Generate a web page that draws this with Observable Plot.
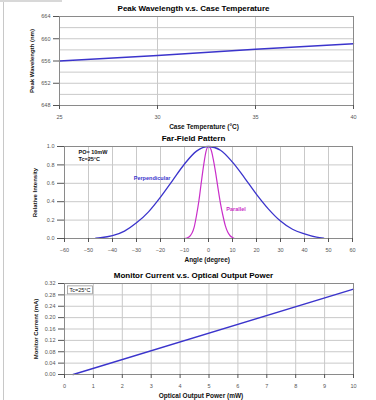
<!DOCTYPE html>
<html>
<head>
<meta charset="utf-8">
<script src="https://cdn.jsdelivr.net/npm/d3@7"></script>
<script src="https://cdn.jsdelivr.net/npm/@observablehq/plot@0.6"></script>
<style>
  body { margin: 0; background: #fff; }
  #wrap { position: relative; width: 376px; height: 400px; overflow: hidden; background: #fff; }
  .chart { position: absolute; left: 0; }
  #edge { position: absolute; left: 3px; top: 0; width: 1px; height: 400px; background: #c8c8c8; }
  #topbar { position: absolute; left: 0; top: 0; width: 62px; height: 2px; background: #d8d8d8; }
</style>
</head>
<body>
<div id="wrap">
  <div id="edge"></div>
  <div id="topbar"></div>
  <div id="c1" class="chart" style="top:0px"></div>
  <div id="c2" class="chart" style="top:130px"></div>
  <div id="c3" class="chart" style="top:265px"></div>
</div>
<script>
// ---------- Data ----------
// Chart 1: Peak Wavelength vs Case Temperature
const caseTemp = [25, 30, 35, 40];
const peakWavelength = [656.0, 657.0, 658.1, 659.1];
const tempTicks = [25, 30, 35, 40];
const wlTicks = [648, 652, 656, 660, 664];
const wlGrid = [650, 652, 654, 656, 658, 660, 662];
const tempGrid = [30, 35];

// Chart 2: Far-Field Pattern
const perpAngle = [-47, -45, -40, -35, -30, -25, -20, -15, -10, -5, 0, 5, 10, 15, 20, 25, 30, 35, 40, 45, 48];
const perpIntensity = [0.004, 0.008, 0.03, 0.08, 0.17, 0.29, 0.45, 0.63, 0.81, 0.95, 1.0, 0.96, 0.83, 0.66, 0.48, 0.32, 0.19, 0.10, 0.05, 0.015, 0.005];
const paraAngle = [-47, -12, -10, -8, -6, -5, -4, -3, -2, -1, 0, 1, 2, 3, 4, 5, 6, 7, 8, 9, 10, 11, 48];
const paraIntensity = [0, 0, 0.0, 0.02, 0.12, 0.25, 0.41, 0.61, 0.80, 0.95, 1.0, 0.97, 0.86, 0.71, 0.54, 0.38, 0.25, 0.14, 0.07, 0.03, 0.01, 0, 0];
const angleTicks = [-60, -50, -40, -30, -20, -10, 0, 10, 20, 30, 40, 50, 60];
const angleGrid = [-50, -40, -30, -20, -10, 0, 10, 20, 30, 40, 50];
const intensityTicks = [0, 0.2, 0.4, 0.6, 0.8, 1.0];
const intensityGrid = [0.2, 0.4, 0.6, 0.8];
const seriesLabels = ["Perpendicular", "Parallel"];
const seriesLabelAngle = [-23.5, 11.5];
const seriesLabelIntensity = [0.65, 0.32];
const conditionNotes = ["PO= 10mW", "Tc=25°C"];

// Chart 3: Monitor Current vs Optical Output Power
const outputPower = [0.3, 10];
const monitorCurrent = [0.0, 0.30];
const powerTicks = [0, 1, 2, 3, 4, 5, 6, 7, 8, 9, 10];
const powerGrid = [1, 2, 3, 4, 5, 6, 7, 8, 9];
const currentTicks = [0, 0.04, 0.08, 0.12, 0.16, 0.20, 0.24, 0.28, 0.32];
const currentGrid = [0.04, 0.08, 0.12, 0.16, 0.20, 0.24, 0.28];

// ---------- Styling ----------
const FONT = "'Liberation Sans', Arial, sans-serif";
const GRID = "#c9c9c9";
const FRAME = "#8a8a8a";
const TICKC = "#555";
const BLUE = "#3b34cc";
const MAGENTA = "#c92ec9";

function baseStyle() {
  return { fontFamily: FONT, fontSize: "5.5px", background: "transparent", overflow: "visible" };
}
function title(t, dx, dy) {
  return Plot.text([t], { frameAnchor: "top", textAnchor: "middle", lineAnchor: "middle", dx, dy, fontWeight: "bold", fontSize: 8, fill: "#000" });
}
function xTitle(t, dx, dy) {
  return Plot.text([t], { frameAnchor: "bottom", textAnchor: "middle", lineAnchor: "middle", dx, dy, fontWeight: "bold", fontSize: 6.5, fill: "#111" });
}
function yTitle(t, dx, dy) {
  return Plot.text([t], { frameAnchor: "left", textAnchor: "middle", lineAnchor: "middle", rotate: -90, dx, dy: dy || 0, fontWeight: "bold", fontSize: 6, fill: "#111" });
}

// ---------- Chart 1 ----------
const d1 = caseTemp.map((t, i) => ({ t, w: peakWavelength[i] }));
const p1 = Plot.plot({
  width: 376, height: 130,
  marginLeft: 59, marginRight: 23, marginTop: 16, marginBottom: 25,
  style: baseStyle(),
  x: { domain: [25, 40] },
  y: { domain: [648, 664] },
  marks: [
    Plot.gridX(tempGrid, { stroke: GRID, strokeOpacity: 1 }),
    Plot.gridY(wlGrid, { stroke: GRID, strokeOpacity: 1 }),
    Plot.line(d1, { x: "t", y: "w", stroke: BLUE, strokeWidth: 1.4 }),
    Plot.frame({ stroke: FRAME }),
    Plot.axisX(tempTicks, { tickSize: 4, tickPadding: 6, color: TICKC, fontSize: 5.5, label: null }),
    Plot.axisY(wlTicks, { tickSize: 6, tickPadding: 3, color: TICKC, fontSize: 5.5, label: null }),
    title("Peak Wavelength v.s. Case Temperature", -13, -8),
    xTitle("Case Temperature (°C)", -2.5, 21),
    yTitle("Peak Wavelength (nm)", -27)
  ]
});
document.getElementById("c1").append(p1);

// ---------- Chart 2 ----------
const perp = perpAngle.map((a, i) => ({ a, v: perpIntensity[i] }));
const para = paraAngle.map((a, i) => ({ a, v: paraIntensity[i] }));
const lbl = seriesLabels.map((s, i) => ({ s, a: seriesLabelAngle[i], v: seriesLabelIntensity[i] }));
const p2 = Plot.plot({
  width: 376, height: 135,
  marginLeft: 64, marginRight: 24, marginTop: 16, marginBottom: 27,
  style: baseStyle(),
  x: { domain: [-60, 60] },
  y: { domain: [0, 1] },
  color: { domain: seriesLabels, range: [BLUE, MAGENTA] },
  marks: [
    Plot.gridX(angleGrid, { stroke: GRID, strokeOpacity: 1 }),
    Plot.gridY(intensityGrid, { stroke: GRID, strokeOpacity: 1 }),
    Plot.line(para, { x: "a", y: "v", stroke: MAGENTA, strokeWidth: 1.2, curve: "monotone-x" }),
    Plot.line(perp, { x: "a", y: "v", stroke: BLUE, strokeWidth: 1.3, curve: "monotone-x" }),
    Plot.frame({ stroke: FRAME }),
    Plot.axisX(angleTicks, { tickSize: 4, tickPadding: 6, color: TICKC, fontSize: 5.5, label: null }),
    Plot.axisY(intensityTicks, { tickSize: 7, tickPadding: 3, color: TICKC, fontSize: 5.5, label: null, tickFormat: d3.format(".1f") }),
    Plot.text(lbl, { x: "a", y: "v", text: "s", fill: "s", fontWeight: "bold", fontSize: 5.5, textAnchor: "middle" }),
    Plot.text([conditionNotes[0]], { frameAnchor: "top-left", textAnchor: "start", lineAnchor: "middle", dx: 14, dy: 5.5, fontSize: 5.5, fontWeight: "bold", fill: "#111" }),
    Plot.text([conditionNotes[1]], { frameAnchor: "top-left", textAnchor: "start", lineAnchor: "middle", dx: 14, dy: 12.5, fontSize: 5.5, fontWeight: "bold", fill: "#111" }),
    title("Far-Field Pattern", -15, -8.3),
    xTitle("Angle (degree)", -1.3, 21.5),
    yTitle("Relative Intensity", -29)
  ]
});
document.getElementById("c2").append(p2);

// ---------- Chart 3 ----------
const d3data = outputPower.map((p, i) => ({ p, c: monitorCurrent[i] }));
const p3 = Plot.plot({
  width: 376, height: 135,
  marginLeft: 64, marginRight: 23, marginTop: 18, marginBottom: 26,
  style: baseStyle(),
  x: { domain: [0, 10] },
  y: { domain: [0, 0.32] },
  marks: [
    Plot.gridX(powerGrid, { stroke: GRID, strokeOpacity: 1 }),
    Plot.gridY(currentGrid, { stroke: GRID, strokeOpacity: 1 }),
    Plot.line(d3data, { x: "p", y: "c", stroke: BLUE, strokeWidth: 1.4 }),
    Plot.frame({ stroke: FRAME }),
    Plot.axisX(powerTicks, { tickSize: 4, tickPadding: 6, color: TICKC, fontSize: 5.5, label: null }),
    Plot.axisY(currentTicks, { tickSize: 6, tickPadding: 3, color: TICKC, fontSize: 5.5, label: null, tickFormat: d3.format(".2f") }),
    Plot.text(["Tc=25°C"], { frameAnchor: "top-left", textAnchor: "start", lineAnchor: "middle", dx: 5, dy: 6.6, fontSize: 5.5, fill: "#111" }),
    title("Monitor Current v.s. Optical Output Power", -15.5, -8),
    xTitle("Optical Output Power (mW)", -8, 21),
    yTitle("Monitor Current (mA)", -28)
  ]
});
document.getElementById("c3").append(p3);
// box around the Tc note
{
  const t = Array.from(p3.querySelectorAll("text")).find(t => t.textContent === "Tc=25°C");
  if (t) {
    const b = t.getBBox();
    const tc = t.getScreenCTM();
    const sc = p3.getScreenCTM();
    const ox = tc.e - sc.e, oy = tc.f - sc.f;
    const r = document.createElementNS("http://www.w3.org/2000/svg", "rect");
    r.setAttribute("x", ox + b.x - 2);
    r.setAttribute("y", oy + b.y - 1);
    r.setAttribute("width", b.width + 4);
    r.setAttribute("height", b.height + 2);
    r.setAttribute("fill", "#fff");
    r.setAttribute("stroke", "#999");
    r.setAttribute("stroke-width", "0.8");
    const g = t.closest("g");
    g.parentNode.insertBefore(r, g);
  }
}
</script>
</body>
</html>
